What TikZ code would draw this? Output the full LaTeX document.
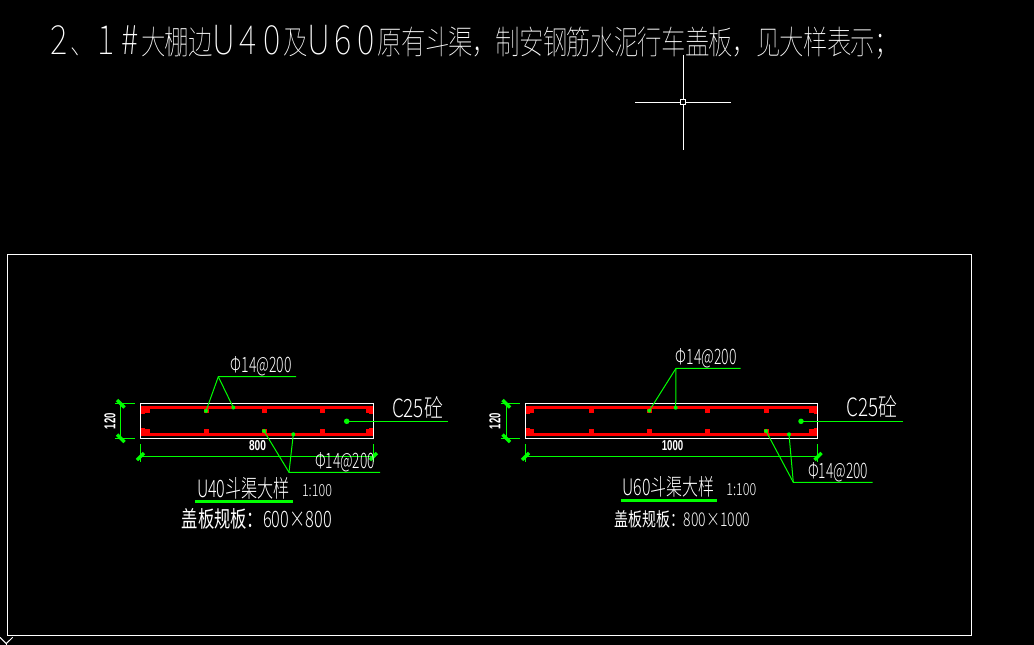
\documentclass[tikz,border=0pt]{standalone}
\usepackage{fontspec}
\usepackage{graphicx}
\setmainfont{Noto Sans CJK SC Thin}
\newfontfamily\lat{Noto Sans CJK SC Light}
\newfontfamily\cjr{Noto Sans CJK SC}
\newfontfamily\latb{Liberation Sans}
\definecolor{cadgreen}{RGB}{0,255,0}
\definecolor{cadred}{RGB}{255,0,0}
\makeatletter
\newcommand\spacedchars[1]{\@tfor\mychar:=#1\do{\makebox[23.65pt][c]{\scalebox{0.74}[1]{\mychar}}}}
\newcommand\spacedlatin[1]{\@tfor\mychar:=#1\do{\makebox[23.65pt][c]{\scalebox{1.0}[1.22]{\mychar}}}}
\makeatother
\newcommand\fitted[3]{\resizebox{#1pt}{#2pt}{#3}}
\tikzset{
  x=1pt,y=-1pt,
  txt/.style={text=white,inner sep=0pt,outer sep=0pt},
  frameline/.style={draw=white,line width=1pt},
  beam/.style={draw=white,line width=1.3pt},
  rebar/.style={draw=cadred,line width=3.2pt},
  bardot/.style={fill=cadred,draw=none},
  leader/.style={draw=cadgreen,line width=1pt},
  dimline/.style={draw=cadgreen,line width=1pt},
  tick/.style={draw=cadgreen,line width=3.5pt},
  underl/.style={draw=cadgreen,line width=3pt},
  gdot/.style={fill=cadgreen,draw=none,circle,inner sep=0pt,minimum size=4pt},
  gdotbig/.style={fill=cadgreen,draw=none,circle,inner sep=0pt,minimum size=5.5pt},
}
\begin{document}
\begin{tikzpicture}
\useasboundingbox[fill=black] (0,0) rectangle (1034,645);
% title
\node[txt,anchor=west,font=\fontsize{33}{33}\selectfont] (title) at (47,42)
  {\spacedlatin{2}\spacedchars{、}\spacedlatin{1\#}\spacedchars{大棚边}\spacedlatin{U40}\spacedchars{及}\spacedlatin{U60}\spacedchars{原有斗渠，制安钢筋水泥行车盖板，见大样表示；}};
% cursor
\coordinate (cc) at (683,102);
\draw[frameline] (635,102) -- (731,102);
\draw[frameline] (683,55) -- (683,150);
\draw[draw=white,fill=black,line width=1pt] (680.5,99.5) rectangle (685.5,104.5);
% frame
\draw[frameline] (7.5,254.5) rectangle (971.5,635.5);
% axis icon corner
\draw[frameline] (0,637.3) -- (6.3,643.6) -- (12.7,637.3);
\draw[frameline] (6.3,643.6) -- (6.3,645);

% ---------- left beam
\draw[rebar] (141,407.7) -- (373,407.7);
\draw[rebar] (141,434.3) -- (373,434.3);
\foreach \x in {143,371}{
  \fill[cadred] (\x-2,407) rectangle (\x+2,413.5);
  \fill[cadred] (\x-2,428) rectangle (\x+2,435);
}
\foreach \x in {147,206,264,322,368}{
  \fill[bardot] (\x-2.5,408) rectangle (\x+2.5,413);
  \fill[bardot] (\x-2.5,428.7) rectangle (\x+2.5,434);
}
\draw[beam] (140.7,403.5) rectangle (373.3,438.3);
% dims
\coordinate (lv1) at (120.7,403.5); \coordinate (lv2) at (120.7,438.3);
\draw[dimline] (lv1) -- (lv2);
\draw[dimline] (115,403.5) -- (135,403.5);
\draw[dimline] (115,438.3) -- (135,438.3);
\draw[tick] (117,400) -- (124.5,407.5);
\draw[tick] (117,434.5) -- (124.5,442);
\coordinate (lh1) at (140.7,456.3); \coordinate (lh2) at (373.3,456.3);
\draw[dimline] (lh1) -- (lh2);
\draw[dimline] (140.7,444) -- (140.7,461.7);
\draw[dimline] (373.3,444) -- (373.3,461.7);
\draw[tick] (137,460) -- (144,453);
\draw[tick] (370,460) -- (377,453);
\node[txt,rotate=90,font=\latb\bfseries] (ldv) at (110,421) {\fitted{16}{11}{120}};
\node[txt,font=\latb\bfseries] (ldh) at (257.5,446) {\fitted{17}{10}{800}};
% leaders
\coordinate (lt) at (218.3,376.7); \coordinate (ltE) at (296,376.7);
\node[gdot] (lt1) at (206,411) {}; \node[gdot] (lt2) at (233.3,407.5) {};
\draw[leader] (lt1.center) -- (lt) -- (ltE); \draw[leader] (lt2.center) -- (lt);
\coordinate (lb) at (289,472.3); \coordinate (lbE) at (380,472.3);
\node[gdot] (lb1) at (264,431) {}; \node[gdot] (lb2) at (293.3,434.3) {};
\draw[leader] (lb1.center) -- (lb) -- (lbE); \draw[leader] (lb2.center) -- (lb);
\node[gdotbig] (lc) at (346.7,421.3) {}; \coordinate (lcE) at (447.7,421.3);
\draw[leader] (lc.center) -- (lcE);
% texts
\node[txt,font=\lat] (lphi1) at (261.2,366.5) {\fitted{61}{16}{Φ14@200}};
\node[txt,font=\lat] (lphi2) at (345,462.7) {\fitted{60}{16}{Φ14@200}};
\node[txt,font=\lat] (lc25) at (417.5,407) {\fitted{51}{21}{C25砼}};
\node[txt,font=\lat] (lname) at (243.5,488) {\fitted{93}{20}{U40斗渠大样}};
\draw[underl] (195,501.3) -- (292.7,501.3);
\node[txt,font=\lat] (lscale) at (317,491) {\fitted{30}{12}{1:100}};
\node[txt,font=\lat] (lsize) at (256.8,519) {\fitted{150}{19}{{\cjr 盖板规板：}600×800}};

% ---------- right beam
\draw[rebar] (525.5,407.7) -- (817.5,407.7);
\draw[rebar] (525.5,434.3) -- (817.5,434.3);
\foreach \x in {527.5,815.5}{
  \fill[cadred] (\x-2,407) rectangle (\x+2,413.5);
  \fill[cadred] (\x-2,428) rectangle (\x+2,435);
}
\foreach \x in {531.7,591,649.3,707.7,766,811.7}{
  \fill[bardot] (\x-2.5,408) rectangle (\x+2.5,413);
  \fill[bardot] (\x-2.5,428.7) rectangle (\x+2.5,434);
}
\draw[beam] (525.3,403.5) rectangle (817.7,438.5);
% dims
\coordinate (rv1) at (506,403.5); \coordinate (rv2) at (506,438.5);
\draw[dimline] (rv1) -- (rv2);
\draw[dimline] (500.7,403.5) -- (520,403.5);
\draw[dimline] (500.7,438.5) -- (520,438.5);
\draw[tick] (502.5,400) -- (510,407.5);
\draw[tick] (502.5,434.5) -- (510,442);
\coordinate (rh1) at (525.3,456.3); \coordinate (rh2) at (817.7,456.3);
\draw[dimline] (rh1) -- (rh2);
\draw[dimline] (525.3,444) -- (525.3,461.7);
\draw[dimline] (817.7,444) -- (817.7,461.7);
\draw[tick] (522,460) -- (529,453);
\draw[tick] (814.5,460) -- (821.5,453);
\node[txt,rotate=90,font=\latb\bfseries] (rdv) at (495,421) {\fitted{16}{11}{120}};
\node[txt,font=\latb\bfseries] (rdh) at (672.5,446) {\fitted{21.5}{10}{1000}};
% leaders
\coordinate (rt) at (676,368.3); \coordinate (rtE) at (740.7,368.3);
\node[gdot] (rt1) at (649.3,410.7) {}; \node[gdot] (rt2) at (675.7,407.7) {};
\draw[leader] (rt1.center) -- (rt) -- (rtE); \draw[leader] (rt2.center) -- (rt);
\coordinate (rb) at (793.3,482.3); \coordinate (rbE) at (872.7,482.3);
\node[gdot] (rb1) at (766,431) {}; \node[gdot] (rb2) at (789,434.3) {};
\draw[leader] (rb1.center) -- (rb) -- (rbE); \draw[leader] (rb2.center) -- (rb);
\node[gdotbig] (rc) at (801,421.3) {}; \coordinate (rcE) at (902.7,421.3);
\draw[leader] (rc.center) -- (rcE);
% texts
\node[txt,font=\lat] (rphi1) at (706.2,358.3) {\fitted{61}{16}{Φ14@200}};
\node[txt,font=\lat] (rphi2) at (838.3,472.3) {\fitted{60}{16}{Φ14@200}};
\node[txt,font=\lat] (rc25) at (872,406.7) {\fitted{51}{21}{C25砼}};
\node[txt,font=\lat] (rname) at (668.5,486.5) {\fitted{92}{19}{U60斗渠大样}};
\draw[underl] (621,500.3) -- (717,500.3);
\node[txt,font=\lat] (rscale) at (741.3,490) {\fitted{30}{12}{1:100}};
\node[txt,font=\lat] (rsize) at (682.2,519.5) {\fitted{136}{16}{{\cjr 盖板规板：}800×1000}};
\end{tikzpicture}
\end{document}
